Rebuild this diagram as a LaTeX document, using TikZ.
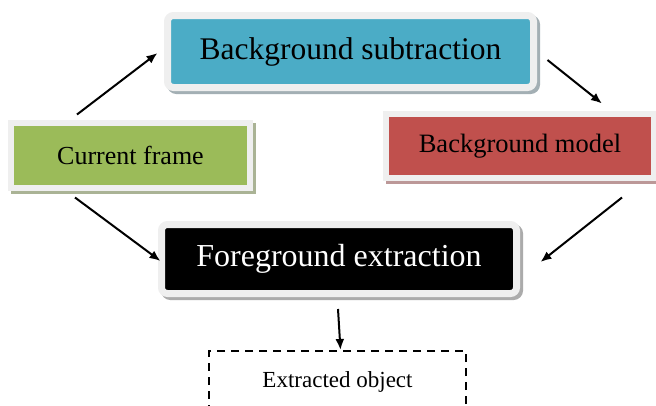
\documentclass[tikz,border=0pt]{standalone}
\usepackage{fontspec}
\setmainfont{Liberation Serif}
\usepackage{xcolor}
\usetikzlibrary{arrows.meta,calc}
\definecolor{subblue}{HTML}{4BACC6}
\definecolor{curgreen}{HTML}{9BBB59}
\definecolor{modred}{HTML}{C0504D}
\definecolor{framegray}{HTML}{EFEFEF}
\definecolor{shblue}{HTML}{A3AFB4}
\definecolor{shgreen}{HTML}{AAB395}
\definecolor{shred}{HTML}{BC9898}
\definecolor{shgray}{HTML}{ABABAB}

\begin{document}
\begin{tikzpicture}[x=1pt,y=1pt,>=Latex,
    panel/.style n args={3}{fill=#1,draw=framegray,line width=#3,inner sep=0pt,
      preaction={fill=#2,draw=#2,line width=#3,transform canvas={shift={(3pt,-3pt)}}}},
    arr/.style={->,line width=2pt,>={Latex[length=11pt,width=9pt]}}]
  \useasboundingbox (0,0) rectangle (656,-405);
  % boxes
  \node[panel={subblue}{shblue}{7pt},rounded corners=6pt,minimum width=366,minimum height=72,
        font=\fontsize{31.5}{37}\selectfont] (bs) at (350.5,-51.5) {Background subtraction};
  \node[panel={curgreen}{shgreen}{6pt},minimum width=239,minimum height=65,
        font=\fontsize{26}{31}\selectfont] (cf) at (130.5,-155.5) {Current frame};
  \node[panel={modred}{shred}{6pt},minimum width=268,minimum height=64,
        font=\fontsize{26.5}{31}\selectfont] (bm) at (520,-146) {Background model};
  \node[panel={black}{shgray}{7pt},rounded corners=6pt,minimum width=355,minimum height=69,
        text=white,font=\fontsize{32}{38}\selectfont] (fe) at (339,-259) {Foreground extraction};
  \node[draw,dash pattern=on 8pt off 6pt,line width=2pt,minimum width=257,minimum height=62,
        font=\fontsize{23}{27}\selectfont] (eo) at (337.5,-382) {Extracted object};
  % connectors
  \draw[arr] ([xshift=-53.5pt,yshift=5.5pt]cf.north) -- ([xshift=-6.5pt,yshift=-1.5pt]bs.west);
  \draw[arr] ([xshift=10.5pt,yshift=-8.5pt]bs.east) -- ([xshift=82pt,yshift=7.5pt]bm.north);
  \draw[arr] ([xshift=-55.5pt,yshift=-6.5pt]cf.south) -- ([xshift=2.5pt,yshift=-2pt]fe.west);
  \draw[arr] ([xshift=102pt,yshift=-16.5pt]bm.south) -- ([xshift=20.5pt,yshift=-3pt]fe.east);
  \draw[arr] ([xshift=-1pt,yshift=-12pt]fe.south) -- ([xshift=3pt]eo.north);
\end{tikzpicture}
\end{document}
